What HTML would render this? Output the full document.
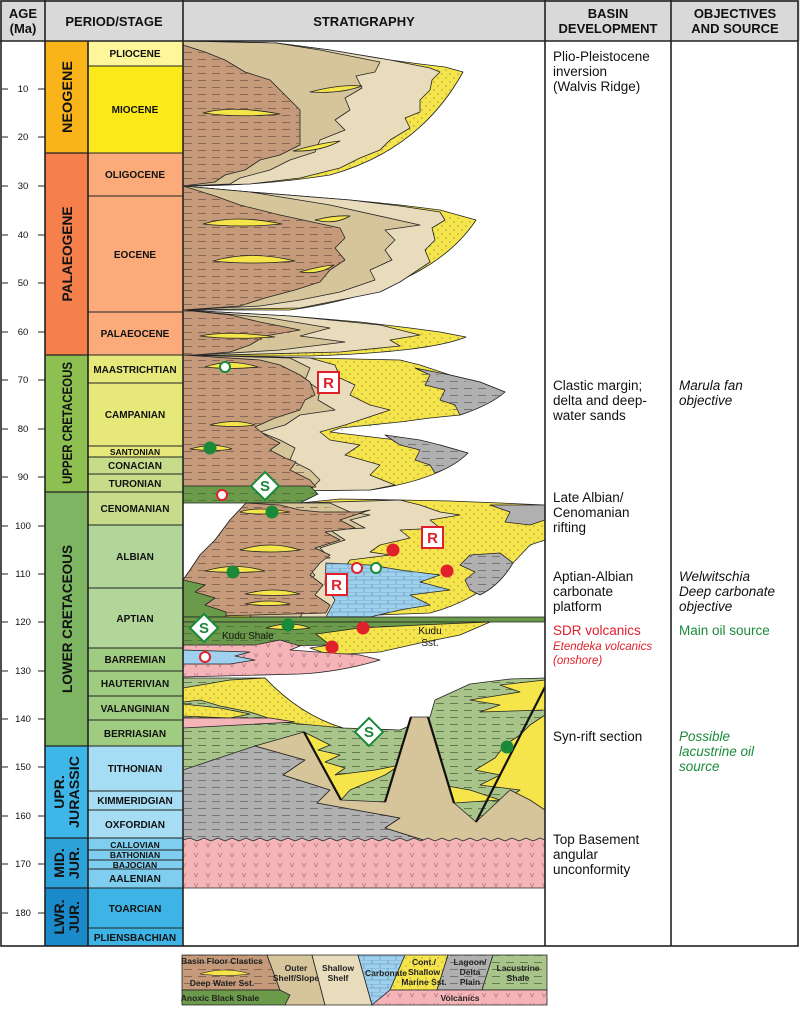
<!DOCTYPE html>
<html><head><meta charset="utf-8"><style>
html,body{margin:0;padding:0;background:#fff;}
svg{display:block;font-family:"Liberation Sans",sans-serif;}
.st{font-size:10px;font-weight:bold;text-anchor:middle;fill:#111;}
.pr{font-size:14px;font-weight:bold;text-anchor:middle;fill:#111;}
.hd{font-size:13px;font-weight:bold;text-anchor:middle;fill:#111;}
.ag{font-size:9.5px;text-anchor:middle;fill:#111;}
.bd{font-size:13.5px;fill:#111;}
.ob{font-size:13.5px;font-style:italic;fill:#111;}
.o{stroke:#222;stroke-width:0.8;stroke-linejoin:round;}
.lg{font-size:8.5px;font-weight:bold;text-anchor:middle;fill:#222;}
</style></head><body>
<svg width="800" height="1010" viewBox="0 0 800 1010">
<defs>
<pattern id="dsh" width="14" height="7" patternUnits="userSpaceOnUse"><line x1="2" y1="3.5" x2="10" y2="3.5" stroke="#7a5a48" stroke-width="0.8"/></pattern>
<pattern id="dshg" width="14" height="7" patternUnits="userSpaceOnUse"><line x1="2" y1="3.5" x2="10" y2="3.5" stroke="#4d6b3a" stroke-width="0.8"/></pattern>
<pattern id="dshy" width="14" height="7" patternUnits="userSpaceOnUse"><line x1="2" y1="3.5" x2="10" y2="3.5" stroke="#666" stroke-width="0.8"/></pattern>
<pattern id="dot" width="8" height="8" patternUnits="userSpaceOnUse"><circle cx="2" cy="2" r="0.6" fill="#776"/><circle cx="6" cy="6" r="0.6" fill="#776"/></pattern>
<pattern id="vv" width="12" height="10" patternUnits="userSpaceOnUse"><path d="M2 3 L4 7 L6 3" fill="none" stroke="#b07080" stroke-width="0.7"/></pattern>
<pattern id="brk" width="16" height="8" patternUnits="userSpaceOnUse"><path d="M0 0H16M0 4H16M4 0V4M12 4V8" stroke="#5a8fb0" stroke-width="0.6" fill="none"/></pattern>
</defs>

<rect x="0" y="0" width="800" height="41" fill="#d9d9d9"/>
<text class="hd" x="23" y="18">AGE</text><text class="hd" x="23" y="33">(Ma)</text>
<text class="hd" x="114" y="26">PERIOD/STAGE</text>
<text class="hd" x="364" y="26">STRATIGRAPHY</text>
<text class="hd" x="608" y="18">BASIN</text><text class="hd" x="608" y="33">DEVELOPMENT</text>
<text class="hd" x="735" y="18">OBJECTIVES</text><text class="hd" x="735" y="33">AND SOURCE</text>

<rect x="45" y="41" width="43" height="112" fill="#f8b418"/>
<rect x="45" y="153" width="43" height="202" fill="#f6804c"/>
<rect x="45" y="355" width="43" height="137" fill="#8dc050"/>
<rect x="45" y="492" width="43" height="254" fill="#7db563"/>
<rect x="45" y="746" width="43" height="92" fill="#3fb6e8"/>
<rect x="45" y="838" width="43" height="50" fill="#2da2d8"/>
<rect x="45" y="888" width="43" height="58" fill="#1a8acb"/>
<g fill="none" stroke="#222" stroke-width="1.2">
<path d="M45 153H88M45 355H88M45 492H88M45 746H88M45 838H88M45 888H88"/>
</g>
<text class="pr" transform="translate(72,97) rotate(-90)" textLength="72" lengthAdjust="spacingAndGlyphs">NEOGENE</text>
<text class="pr" transform="translate(72,254) rotate(-90)" textLength="95" lengthAdjust="spacingAndGlyphs">PALAEOGENE</text>
<text class="pr" transform="translate(72,423) rotate(-90)" textLength="122" lengthAdjust="spacingAndGlyphs">UPPER CRETACEOUS</text>
<text class="pr" transform="translate(72,619) rotate(-90)" textLength="148" lengthAdjust="spacingAndGlyphs">LOWER CRETACEOUS</text>
<text class="pr" transform="translate(64,792) rotate(-90)">UPR.</text><text class="pr" transform="translate(79,792) rotate(-90)" textLength="72" lengthAdjust="spacingAndGlyphs">JURASSIC</text>
<text class="pr" transform="translate(64,863) rotate(-90)">MID.</text><text class="pr" transform="translate(79,863) rotate(-90)">JUR.</text>
<text class="pr" transform="translate(64,917) rotate(-90)">LWR.</text><text class="pr" transform="translate(79,917) rotate(-90)">JUR.</text>

<g stroke="#222" stroke-width="1">
<rect x="88" y="41" width="95" height="25" fill="#fff59a"/>
<rect x="88" y="66" width="95" height="87" fill="#fbe91c"/>
<rect x="88" y="153" width="95" height="43" fill="#fbab7a"/>
<rect x="88" y="196" width="95" height="116" fill="#fbab7a"/>
<rect x="88" y="312" width="95" height="43" fill="#fbab7a"/>
<rect x="88" y="355" width="95" height="28" fill="#e6e87a"/>
<rect x="88" y="383" width="95" height="63" fill="#e6e87a"/>
<rect x="88" y="446" width="95" height="11" fill="#e6e87a"/>
<rect x="88" y="457" width="95" height="17" fill="#c6dc8a"/>
<rect x="88" y="474" width="95" height="18" fill="#c6dc8a"/>
<rect x="88" y="492" width="95" height="33" fill="#c6dc8a"/>
<rect x="88" y="525" width="95" height="63" fill="#b2d69a"/>
<rect x="88" y="588" width="95" height="60" fill="#b2d69a"/>
<rect x="88" y="648" width="95" height="23" fill="#9fcc80"/>
<rect x="88" y="671" width="95" height="25" fill="#9fcc80"/>
<rect x="88" y="696" width="95" height="24" fill="#9fcc80"/>
<rect x="88" y="720" width="95" height="26" fill="#9fcc80"/>
<rect x="88" y="746" width="95" height="45" fill="#a6ddf4"/>
<rect x="88" y="791" width="95" height="19" fill="#a6ddf4"/>
<rect x="88" y="810" width="95" height="28" fill="#a6ddf4"/>
<rect x="88" y="838" width="95" height="12" fill="#7fcdef"/>
<rect x="88" y="850" width="95" height="10" fill="#7fcdef"/>
<rect x="88" y="860" width="95" height="9" fill="#7fcdef"/>
<rect x="88" y="869" width="95" height="19" fill="#7fcdef"/>
<rect x="88" y="888" width="95" height="40" fill="#3eb4e6"/>
<rect x="88" y="928" width="95" height="18" fill="#3eb4e6"/>
</g>
<text class="st" x="135" y="57">PLIOCENE</text>
<text class="st" x="135" y="113">MIOCENE</text>
<text class="st" x="135" y="178">OLIGOCENE</text>
<text class="st" x="135" y="258">EOCENE</text>
<text class="st" x="135" y="337">PALAEOCENE</text>
<text class="st" x="135" y="373">MAASTRICHTIAN</text>
<text class="st" x="135" y="418">CAMPANIAN</text>
<text class="st" x="135" y="455" style="font-size:8.5px">SANTONIAN</text>
<text class="st" x="135" y="469">CONACIAN</text>
<text class="st" x="135" y="487">TURONIAN</text>
<text class="st" x="135" y="512">CENOMANIAN</text>
<text class="st" x="135" y="560">ALBIAN</text>
<text class="st" x="135" y="622">APTIAN</text>
<text class="st" x="135" y="663">BARREMIAN</text>
<text class="st" x="135" y="687">HAUTERIVIAN</text>
<text class="st" x="135" y="712">VALANGINIAN</text>
<text class="st" x="135" y="737">BERRIASIAN</text>
<text class="st" x="135" y="772">TITHONIAN</text>
<text class="st" x="135" y="804">KIMMERIDGIAN</text>
<text class="st" x="135" y="828">OXFORDIAN</text>
<text class="st" x="135" y="848" style="font-size:8.5px">CALLOVIAN</text>
<text class="st" x="135" y="858" style="font-size:8.5px">BATHONIAN</text>
<text class="st" x="135" y="868" style="font-size:8.5px">BAJOCIAN</text>
<text class="st" x="135" y="882">AALENIAN</text>
<text class="st" x="135" y="912">TOARCIAN</text>
<text class="st" x="135" y="941">PLIENSBACHIAN</text>

<g stroke="#222" stroke-width="1">
<path d="M2 89H8M38 89H45M2 137H8M38 137H45M2 186H8M38 186H45M2 235H8M38 235H45M2 283H8M38 283H45M2 332H8M38 332H45M2 380H8M38 380H45M2 429H8M38 429H45M2 477H8M38 477H45M2 526H8M38 526H45M2 574H8M38 574H45M2 622H8M38 622H45M2 671H8M38 671H45M2 719H8M38 719H45M2 767H8M38 767H45M2 816H8M38 816H45M2 864H8M38 864H45M2 913H8M38 913H45"/>
</g>
<g class="ag">
<text x="23" y="92">10</text><text x="23" y="140">20</text><text x="23" y="189">30</text><text x="23" y="238">40</text><text x="23" y="286">50</text><text x="23" y="335">60</text><text x="23" y="383">70</text><text x="23" y="432">80</text><text x="23" y="480">90</text><text x="23" y="529">100</text><text x="23" y="577">110</text><text x="23" y="625">120</text><text x="23" y="674">130</text><text x="23" y="722">140</text><text x="23" y="770">150</text><text x="23" y="819">160</text><text x="23" y="867">170</text><text x="23" y="916">180</text>
</g>

<clipPath id="sc"><rect x="183" y="41" width="362" height="905"/></clipPath>
<g clip-path="url(#sc)">
<path class="o" fill="#f5e44a" d="M183 41L276 43L300 46L330 50L360 55L390 60L420 64L445 67L463 72Q420 150 330 175Q260 186 183 186Z"/>
<path fill="url(#dot)" d="M183 41L276 43L463 72Q420 150 330 175Q260 186 183 186Z"/>
<path class="o" fill="#e8dcbc" d="M183 41L276 43L330 50L390 60L430 68L440 72L432 80L430 90L420 100L420 112L405 118L410 128L390 140L380 150L360 158L340 168L300 178L250 184L183 186Z"/>
<path class="o" fill="#d6c49a" d="M183 41L276 43L320 50L380 62L375 72L356 76L362 88L345 98L350 110L335 120L345 130L320 140L315 152L290 160L270 170L240 178L230 184L183 186Z"/>
<path class="o" fill="#c49a7a" d="M183 45L205 52L225 60L245 72L270 80L285 95L300 110L300 125L300 145L280 155L260 160L245 170L225 175L215 182L183 186Z"/>
<path fill="url(#dsh)" d="M183 45L205 52L245 72L285 95L300 110L300 145L260 160L215 182L183 186Z"/>
<path class="o" fill="#f5e44a" d="M203 113Q230 105 280 114Q240 118 203 113Z"/>
<path class="o" fill="#f5e44a" d="M310 92Q340 84 362 86Q340 94 310 92Z"/>
<path class="o" fill="#f5e44a" d="M293 151Q320 143 340 141Q320 152 293 151Z"/>
<path class="o" fill="#f5e44a" d="M183 186L250 192L300 196L350 200L400 205L440 210L476 220Q430 290 290 310L183 310Z"/>
<path fill="url(#dot)" d="M183 186L250 192L476 220Q430 290 290 310L183 310Z"/>
<path class="o" fill="#e8dcbc" d="M183 186L250 192L350 200L400 206L440 212L445 220L432 228L435 240L425 250L430 262L415 272L400 282L380 292L340 300L300 308L183 310Z"/>
<path class="o" fill="#d6c49a" d="M183 186L250 192L330 205L420 225L385 230L395 240L385 250L392 260L370 270L375 280L340 292L300 300L260 306L183 310Z"/>
<path class="o" fill="#c49a7a" d="M183 186L215 196L240 205L280 215L340 228L345 238L335 248L345 260L330 270L320 282L295 290L265 298L240 306L183 310Z"/>
<path fill="url(#dsh)" d="M183 186L240 205L340 228L335 248L345 260L320 282L265 298L240 306L183 310Z"/>
<path class="o" fill="#f5e44a" d="M203 224Q235 214 282 224Q240 228 203 224Z"/>
<path class="o" fill="#f5e44a" d="M213 261Q250 250 295 261Q250 265 213 261Z"/>
<path class="o" fill="#f5e44a" d="M315 220Q335 215 350 216Q335 225 315 220Z"/>
<path class="o" fill="#f5e44a" d="M300 272Q320 266 334 265Q320 275 300 272Z"/>
<path class="o" fill="#f5e44a" d="M183 310L290 316L360 322L410 328L440 332L466 337Q430 352 310 356L183 356Z"/>
<path fill="url(#dot)" d="M183 310L466 337Q430 352 310 356L183 356Z"/>
<path class="o" fill="#e8dcbc" d="M183 310L290 316L380 325L420 335L390 340L400 346L340 352L183 356Z"/>
<path class="o" fill="#d6c49a" d="M183 310L270 318L330 328L300 336L345 342L280 350L183 356Z"/>
<path class="o" fill="#c49a7a" d="M183 310L230 315L260 322L300 330L265 336L250 345L230 352L183 356Z"/>
<path fill="url(#dsh)" d="M183 310L260 322L300 330L250 345L183 356Z"/>
<path class="o" fill="#f5e44a" d="M200 336Q230 330 275 337Q230 340 200 336Z"/>
<path class="o" fill="#f5e44a" d="M183 355L310 358L400 360L420 365L450 375L480 382L505 392Q490 405 460 415L430 418L400 422L340 428L330 432L380 438L440 445L468 453Q440 480 370 490L183 492Z"/>
<path fill="url(#dot)" d="M183 355L400 360L505 392Q490 405 460 415L330 432L468 453Q440 480 370 490L183 492Z"/>
<path class="o" fill="#b0b0b0" d="M415 368L450 375L480 382L505 392Q490 405 460 415L455 405L440 400L445 390L425 385L430 375Z"/>
<path fill="url(#dshy)" d="M415 368L505 392Q490 405 460 415L440 400L445 390L425 385Z"/>
<path class="o" fill="#b0b0b0" d="M385 435L420 440L440 445L468 453Q455 466 435 473L430 465L415 460L420 450L400 445Z"/>
<path fill="url(#dshy)" d="M385 435L468 453Q455 466 435 473L415 460L420 450L400 445Z"/>
<path class="o" fill="#e8dcbc" d="M183 355L310 358L335 365L340 378L355 385L350 395L370 405L390 410L360 420L345 425L320 432L330 440L360 445L345 455L380 465L370 475L395 485L370 490L183 492Z"/>
<path class="o" fill="#d6c49a" d="M183 355L290 358L310 368L305 380L320 390L318 400L335 410L300 415L285 425L260 432L280 440L295 448L290 460L310 470L320 480L310 490L183 492Z"/>
<path class="o" fill="#c49a7a" d="M183 355L260 360L280 365L300 375L310 382L315 395L305 400L300 410L275 418L255 427L265 435L280 443L270 450L285 458L296 462L290 470L310 480L316 487L183 492Z"/>
<path fill="url(#dsh)" d="M183 355L280 365L310 382L315 395L300 410L255 427L280 443L270 450L296 462L316 487L183 492Z"/>
<path class="o" fill="#f5e44a" d="M205 367Q230 358 258 367Q230 370 205 367Z"/>
<path class="o" fill="#f5e44a" d="M210 425Q235 418 255 425Q235 428 210 425Z"/>
<path class="o" fill="#f5e44a" d="M190 449Q215 442 232 449Q215 452 190 449Z"/>
<path class="o" fill="#6a9a4a" d="M183 486L310 486L318 494L300 503L183 503Z"/>
<path fill="url(#dshg)" d="M183 486L310 486L318 494L300 503L183 503Z"/>
<path class="o" fill="#f5e44a" d="M246 503L300 503L340 499L400 500L450 501L500 503L545 505L545 540L530 545L513 563Q480 600 430 613L326 617L183 617L183 580L190 570L200 555L215 540L230 520Z"/>
<path fill="url(#dot)" d="M246 503L545 505L545 540L513 563Q480 600 430 613L183 617L183 580Z"/>
<path class="o" fill="#b0b0b0" d="M490 505L545 505L545 520L530 525L505 522L510 512Z"/>
<path class="o" fill="#b0b0b0" d="M470 555L500 553L513 563Q500 585 480 595L470 590L465 580L475 572L460 565Z"/>
<path fill="url(#dshy)" d="M470 555L500 553L513 563Q500 585 480 595L465 580L475 572L460 565Z"/>
<path class="o" fill="#e8dcbc" d="M300 503L400 500L420 505L440 512L460 515L430 520L440 528L400 530L410 538L380 545L370 552L390 555L350 560L340 575L330 590L340 603L326 617L290 617L300 540Z"/>
<path class="o" fill="#d6c49a" d="M246 503L330 503L350 512L370 515L350 520L365 528L330 530L345 540L320 548L330 558L300 560L315 575L300 590L310 603L300 617L250 617L270 560Z"/>
<path class="o" fill="#9fd0ee" d="M326 563L370 565L400 570L440 575L420 582L450 590L410 595L430 605L400 610L370 617L326 617L335 600L325 585Z"/>
<path fill="url(#brk)" d="M326 563L370 565L440 575L420 582L450 590L410 595L430 605L370 617L326 617L335 600L325 585Z"/>
<path class="o" fill="#c49a7a" d="M246 503L280 505L300 510L320 512L360 512L370 510L340 520L355 528L325 532L340 540L315 548L330 555L320 563L310 575L323 585L315 595L330 605L326 613L183 617L183 580L190 570L200 555L215 540L230 520Z"/>
<path fill="url(#dsh)" d="M246 503L370 510L340 520L355 528L325 532L340 540L315 548L330 555L310 575L323 585L315 595L326 613L183 617L183 580L215 540Z"/>
<path class="o" fill="#6a9a4a" d="M183 580L205 585L195 592L215 598L205 605L226 612L226 617L183 617Z"/>
<path class="o" fill="#f5e44a" d="M240 512Q255 506 290 512Q255 516 240 512Z"/>
<path class="o" fill="#f5e44a" d="M240 550Q270 540 300 550Q270 554 240 550Z"/>
<path class="o" fill="#f5e44a" d="M205 571Q235 562 265 571Q235 574 205 571Z"/>
<path class="o" fill="#f5e44a" d="M245 604Q270 598 290 604Q270 607 245 604Z"/>
<path class="o" fill="#f5e44a" d="M245 594Q275 586 300 594Q275 597 245 594Z"/>
<path class="o" fill="#6a9a4a" d="M183 617L545 617L545 622L183 622Z"/>
<path class="o" fill="#6a9a4a" d="M183 622L490 622L340 632L330 645L183 648Z"/>
<path fill="url(#dshg)" d="M183 622L490 622L340 632L330 645L183 648Z"/>
<path class="o" fill="#f5e44a" d="M316 634L360 628L420 625L490 622L460 635L420 643L380 652L330 655L310 648L330 645Z"/>
<path fill="url(#dot)" d="M316 634L490 622L420 643L380 652L330 655Z"/>
<path class="o" fill="#f5e44a" d="M266 628Q290 620 310 628Q290 631 266 628Z"/>
<path class="o" fill="#f5b5b8" d="M183 645L255 645L280 640L300 646L290 650L360 655L380 660Q340 672 300 674L183 677Z"/>
<path fill="url(#vv)" d="M183 645L280 640L360 655L380 660Q340 672 300 674L183 677Z"/>
<path class="o" fill="#9fd0ee" d="M183 650L250 652L235 656L255 660L230 664L183 664Z"/>
<path class="o" fill="#a9c48a" d="M183 678L265 678Q300 715 343 728L400 730L430 717L435 700L470 684L510 679L545 678L545 842L183 842Z"/>
<path fill="url(#dshg)" d="M183 678L265 678Q300 715 343 728L400 730L430 717L435 700L470 684L545 678L545 842L183 842Z"/>
<path class="o" fill="#f5e44a" d="M183 688L230 680L265 678Q300 715 343 728L280 722L250 712L220 706L200 700L183 702Z"/>
<path class="o" fill="#f5e44a" d="M183 704L220 708L250 714L230 718L183 716Z"/>
<path fill="url(#dot)" d="M183 688L265 678Q300 715 343 728L183 716Z"/>
<path class="o" fill="#f5b5b8" d="M183 718L270 718L295 722L183 728Z"/>
<path class="o" fill="#f5e44a" d="M545 680L500 685L520 692L470 700L500 705L480 712L545 710Z"/>
<path class="o" fill="#f5e44a" d="M545 715L530 725L520 735L505 745L495 758L475 770L500 775L480 785L520 790L505 800L545 810Z"/>
<path class="o" fill="#f5e44a" d="M304 732L320 740L330 745L318 750L340 755L325 762L345 768L335 775L375 770L400 765L385 775L350 790L341 800Z"/>
<path class="o" fill="#f5e44a" d="M428 760L440 758L425 770L445 775L430 783L470 790L500 800L454 803Z"/>
<path class="o" fill="#b0b0b0" d="M183 770L255 746L305 760L283 775L330 790L317 803L400 818L385 828L430 842L183 842Z"/>
<path fill="url(#dshy)" d="M183 770L255 746L305 760L283 775L330 790L317 803L400 818L385 828L430 842L183 842Z"/>
<path class="o" fill="#d6c49a" d="M255 746L304 732L341 800L385 802L411 717L428 717L454 803L476 822L510 790L530 800L545 810L545 842L430 842L385 828L400 818L317 803L330 790L283 775L305 760Z"/>
<path fill="#f5b5b8" stroke="#222" stroke-width="0.8" d="M183 840L190 838L197 841L204 838L211 841L218 838L225 841L232 838L239 841L246 838L253 841L260 838L267 841L274 838L281 841L288 838L295 841L302 838L309 841L316 838L323 841L330 838L337 841L344 838L351 841L358 838L365 841L372 838L379 841L386 838L393 841L400 838L407 841L414 838L421 841L428 838L435 841L442 838L449 841L456 838L463 841L470 838L477 841L484 838L491 841L498 838L505 841L512 838L519 841L526 838L533 841L540 838L545 840L545 888L183 888Z"/>
<rect x="183" y="842" width="362" height="46" fill="url(#vv)"/>
<g stroke="#111" stroke-width="2.2" fill="none">
<path d="M304 732L341 800M385 802L411 717M428 717L454 803M476 822L545 687"/>
</g>
</g>

<g stroke-width="2">
<circle cx="225" cy="367" r="5" fill="#fff" stroke="#1a8a3a"/>
<circle cx="376" cy="568" r="5" fill="#fff" stroke="#1a8a3a"/>
<circle cx="222" cy="495" r="5" fill="#fff" stroke="#e0202a"/>
<circle cx="357" cy="568" r="5" fill="#fff" stroke="#e0202a"/>
<circle cx="205" cy="657" r="5" fill="#fff" stroke="#e0202a"/>
</g>
<g fill="#1a8a3a">
<circle cx="210" cy="448" r="6.5"/><circle cx="272" cy="512" r="6.5"/><circle cx="233" cy="572" r="6.5"/><circle cx="288" cy="625" r="6.5"/><circle cx="507" cy="747" r="6.5"/>
</g>
<g fill="#e0202a">
<circle cx="393" cy="550" r="6.5"/><circle cx="447" cy="571" r="6.5"/><circle cx="363" cy="628" r="6.5"/><circle cx="332" cy="647" r="6.5"/>
</g>
<g font-weight="bold" font-size="15" text-anchor="middle">
<rect x="318" y="372" width="21" height="21" fill="#fff" stroke="#e0202a" stroke-width="2"/><text x="328.5" y="388" fill="#e0202a">R</text>
<rect x="422" y="527" width="21" height="21" fill="#fff" stroke="#e0202a" stroke-width="2"/><text x="432.5" y="543" fill="#e0202a">R</text>
<rect x="326" y="574" width="21" height="21" fill="#fff" stroke="#e0202a" stroke-width="2"/><text x="336.5" y="590" fill="#e0202a">R</text>
<path d="M265 472L279 486L265 500L251 486Z" fill="#fff" stroke="#1a8a3a" stroke-width="2"/><text x="265" y="491" fill="#1a8a3a">S</text>
<path d="M204 614L218 628L204 642L190 628Z" fill="#fff" stroke="#1a8a3a" stroke-width="2"/><text x="204" y="633" fill="#1a8a3a">S</text>
<path d="M369 718L383 732L369 746L355 732Z" fill="#fff" stroke="#1a8a3a" stroke-width="2"/><text x="369" y="737" fill="#1a8a3a">S</text>
</g>
<text x="222" y="639" font-size="10" fill="#111">Kudu Shale</text>
<text x="430" y="634" font-size="10" fill="#111" text-anchor="middle">Kudu</text>
<text x="430" y="646" font-size="10" fill="#111" text-anchor="middle">Sst.</text>

<g class="bd">
<text x="553" y="61">Plio-Pleistocene</text><text x="553" y="76">inversion</text><text x="553" y="91">(Walvis Ridge)</text>
<text x="553" y="390">Clastic margin;</text><text x="553" y="405">delta and deep-</text><text x="553" y="420">water sands</text>
<text x="553" y="502">Late Albian/</text><text x="553" y="517">Cenomanian</text><text x="553" y="532">rifting</text>
<text x="553" y="581">Aptian-Albian</text><text x="553" y="596">carbonate</text><text x="553" y="611">platform</text>
<text x="553" y="635" fill="#e0202a">SDR volcanics</text>
<text x="553" y="741">Syn-rift section</text>
<text x="553" y="844">Top Basement</text><text x="553" y="859">angular</text><text x="553" y="874">unconformity</text>
</g>
<text x="553" y="650" font-size="11.5" font-style="italic" fill="#e0202a">Etendeka volcanics</text>
<text x="553" y="664" font-size="11.5" font-style="italic" fill="#e0202a">(onshore)</text>
<g class="ob">
<text x="679" y="390">Marula fan</text><text x="679" y="405">objective</text>
<text x="679" y="581">Welwitschia</text><text x="679" y="596">Deep carbonate</text><text x="679" y="611">objective</text>
<text x="679" y="741" fill="#1a8a3a">Possible</text><text x="679" y="756" fill="#1a8a3a">lacustrine oil</text><text x="679" y="771" fill="#1a8a3a">source</text>
</g>
<text x="679" y="635" font-size="13.5" fill="#1a8a3a">Main oil source</text>

<g fill="none" stroke="#222" stroke-width="1.6">
<rect x="1" y="1" width="797" height="945"/>
<path d="M0 41H798M45 0V946M88 41V946M183 0V946M545 0V946M671 0V946"/>
</g>

<g stroke="#222" stroke-width="0.8">
<path d="M182 955L267 955L280 990L182 990Z" fill="#c49a7a"/>
<path d="M267 955L312 955L325 1005L285 1005L280 990Z" fill="#d6c49a"/>
<path d="M312 955L358 955L372 1005L325 1005Z" fill="#e8dcbc"/>
<path d="M358 955L405 955L390 990L372 1005Z" fill="#9fd0ee"/>
<path d="M405 955L448 955L437 990L390 990Z" fill="#f5e44a"/>
<path d="M448 955L493 955L482 990L437 990Z" fill="#b0b0b0"/>
<path d="M493 955L547 955L547 990L482 990Z" fill="#a9c48a"/>
<path d="M182 990L280 990L290 995L285 1005L182 1005Z" fill="#6a9a4a"/>
<path d="M372 1005L390 990L547 990L547 1005Z" fill="#f5b5b8"/>
</g>
<path d="M182 955L267 955L280 990L182 990Z" fill="url(#dsh)"/>
<path d="M358 955L405 955L390 990L372 1005Z" fill="url(#brk)"/>
<path d="M405 955L448 955L437 990L390 990Z" fill="url(#dot)"/>
<path d="M448 955L493 955L482 990L437 990Z" fill="url(#dshy)"/>
<path d="M493 955L547 955L547 990L482 990Z" fill="url(#dshg)"/>
<path d="M372 1005L390 990L547 990L547 1005Z" fill="url(#vv)"/>
<path d="M200 974Q225 966 250 974Q225 977 200 974Z" fill="#f5e44a" stroke="#222" stroke-width="0.6"/>
<g class="lg">
<text x="222" y="964">Basin Floor Clastics</text><text x="222" y="986">Deep Water Sst.</text>
<text x="296" y="971">Outer</text><text x="296" y="981">Shelf/Slope</text>
<text x="338" y="971">Shallow</text><text x="338" y="981">Shelf</text>
<text x="386" y="976">Carbonate</text>
<text x="424" y="965">Cont./</text><text x="424" y="975">Shallow</text><text x="424" y="985">Marine Sst.</text>
<text x="470" y="965">Lagoon/</text><text x="470" y="975">Delta</text><text x="470" y="985">Plain</text>
<text x="518" y="971">Lacustrine</text><text x="518" y="981">Shale</text>
<text x="220" y="1001">Anoxic Black Shale</text>
<text x="460" y="1001">Volcanics</text>
</g>
</svg>
</body></html>
